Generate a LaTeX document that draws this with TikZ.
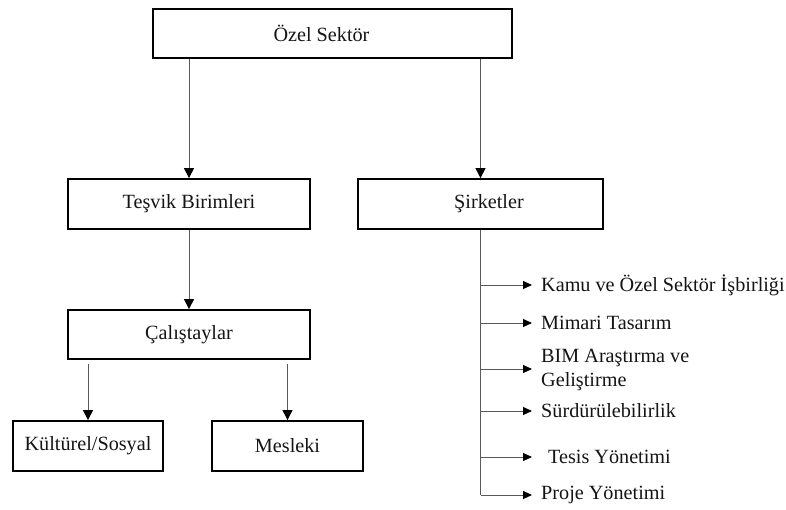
\documentclass[tikz,border=0pt]{standalone}
\usepackage{fontspec}
\setmainfont{Liberation Serif}
\usetikzlibrary{arrows.meta,calc}
\begin{document}
\begin{tikzpicture}[x=1pt,y=-1pt,
  every node/.style={font=\fontsize{20.2}{24}\selectfont, text=black!92},
  box/.style={draw=black, line width=1.8pt, inner sep=0pt, align=center},
  link/.style={draw=black!65, line width=1pt},
  arrow/.style={link, -{Triangle[length=10pt,width=10pt,color=black]}},
  harrow/.style={link, -{Triangle[length=9pt,width=8pt,color=black]}},
  item/.style={anchor=west, inner xsep=9pt, inner ysep=0pt, align=left}]
\useasboundingbox (0,0) rectangle (786,509);

% boxes of the hierarchy
\node[box, minimum width=359pt, minimum height=49pt] (ozel) at (332.5,33.5) {\hspace*{-22pt}Özel Sektör};
\node[box, minimum width=242pt, minimum height=50pt] (tesvik) at (189,204) {Teşvik Birimleri};
\node[box, minimum width=245pt, minimum height=50pt] (sirket) at (480.5,204) {\hspace*{17pt}Şirketler};
\node[box, minimum width=242pt, minimum height=49pt] (cal) at (189,334.5) {Çalıştaylar};
\node[box, minimum width=150pt, minimum height=50pt] (kul) at (88,446) {Kültürel/Sosyal};
\node[box, minimum width=151pt, minimum height=50pt] (mes) at (287.5,446) {Mesleki};

% fields of the companies
\node[item] (kamu) at (532,285) {Kamu ve Özel Sektör İşbirliği};
\node[item] (mimari) at (532,323) {Mimari Tasarım};
\node[item, anchor=north west] (bim) at (532,349) {BIM Araştırma ve\\Geliştirme};
\node[item] (surd) at (532,411) {Sürdürülebilirlik};
\node[item] (tesis) at (532,457) {\hspace*{7pt}Tesis Yönetimi};
\node[item] (proje) at (532,495) {Proje Yönetimi};

\coordinate (bustop) at (sirket.south);
\coordinate (busend) at (sirket.south |- proje.west);
\coordinate (bimtip) at (532,369);

% connectors
\draw[arrow] (tesvik |- ozel.south) -- (tesvik.north);
\draw[arrow] (sirket |- ozel.south) -- (sirket.north);
\draw[arrow] (tesvik.south) -- (cal.north);
\draw[arrow] ($(kul |- cal.south)+(0,4)$) -- (kul.north);
\draw[arrow] ($(mes |- cal.south)+(0,4)$) -- (mes.north);

\draw[link] (bustop) -- (busend);
\draw[harrow] (bustop |- kamu.west) -- (kamu.west);
\draw[harrow] (bustop |- mimari.west) -- (mimari.west);
\draw[harrow] (bustop |- bimtip) -- (bimtip);
\draw[harrow] (bustop |- surd.west) -- (surd.west);
\draw[harrow] (bustop |- tesis.west) -- (tesis.west);
\draw[harrow] (busend) -- (proje.west);
\end{tikzpicture}
\end{document}
